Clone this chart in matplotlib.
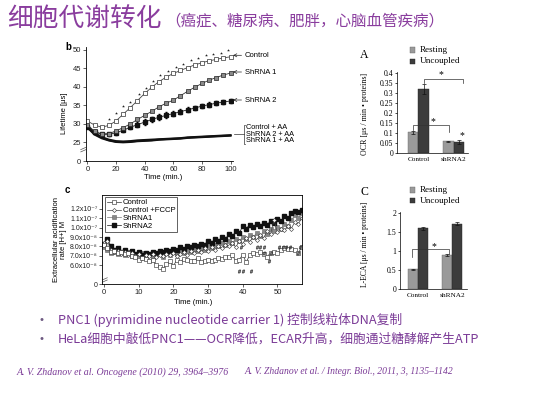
import numpy as np
import matplotlib
matplotlib.use('Agg')
import matplotlib.pyplot as plt
from matplotlib.patches import Rectangle
from matplotlib.lines import Line2D

plt.rcParams['font.family'] = ['Liberation Sans', 'DejaVu Sans']
plt.rcParams['mathtext.fontset'] = 'custom'
plt.rcParams['mathtext.rm'] = 'Liberation Sans'
plt.rcParams['mathtext.it'] = 'Liberation Sans:italic'
plt.rcParams['mathtext.bf'] = 'Liberation Sans:bold'

# ---------------- data: panel b (phosphorescence lifetime) ----------------
b_time = [0, 5, 10, 15, 20, 25, 30, 35, 40, 45, 50, 55, 60, 65, 70, 75, 80, 85, 90, 95, 100]
b_control = [30.8, 29.7, 29.1, 29.6, 30.8, 32.6, 34.4, 36.3, 38.2, 39.9, 41.4, 42.6, 43.6,
             44.4, 45.2, 45.9, 46.5, 47.0, 47.4, 47.8, 48.1]
b_shrna1 = [29.8, 28.0, 27.3, 27.4, 28.1, 29.0, 30.0, 31.2, 32.3, 33.4, 34.6, 35.6, 36.4,
            37.6, 38.8, 39.9, 40.9, 41.8, 42.5, 43.2, 43.7]
b_shrna2 = [29.3, 27.9, 27.2, 27.2, 27.6, 28.3, 29.1, 29.8, 30.5, 31.2, 31.8, 32.3, 32.8,
            33.3, 33.8, 34.3, 34.8, 35.2, 35.6, 35.9, 36.2]
b_shrna2_err = [0.4, 0.4, 0.4, 0.4, 0.5, 0.5, 0.6, 0.6, 0.7, 0.7, 0.8, 0.8, 0.8,
                0.7, 0.7, 0.6, 0.6, 0.6, 0.5, 0.5, 0.5]
b_aa_control = [29.6, 27.6, 26.5, 25.8, 25.4, 25.3, 25.4, 25.6, 25.7, 25.8, 25.9, 26.0,
                26.1, 26.2, 26.4, 26.5, 26.6, 26.7, 26.8, 26.9, 27.0]
b_aa_shrna2 = [29.2, 27.3, 26.3, 25.6, 25.2, 25.1, 25.2, 25.4, 25.5, 25.6, 25.8, 25.9,
               26.0, 26.1, 26.3, 26.4, 26.5, 26.6, 26.7, 26.8, 26.9]
b_aa_shrna1 = [29.0, 27.1, 26.1, 25.5, 25.1, 25.0, 25.1, 25.3, 25.4, 25.5, 25.7, 25.8,
               25.9, 26.0, 26.2, 26.3, 26.4, 26.5, 26.6, 26.7, 26.8]
b_star_time = [15, 20, 25, 30, 36, 41, 46, 51, 56, 62, 67, 72, 77, 83, 88, 93, 98]
b_star_val = [31.4, 33.0, 34.7, 36.0, 38.1, 39.7, 41.5, 43.3, 44.2, 45.3, 46.2, 47.1,
              47.9, 48.5, 48.9, 49.2, 49.8]
b_yticks = [20, 25, 30, 35, 40, 45, 50]
b_yticklabels = ['0', '25', '30', '35', '40', '45', '50']

# ---------------- data: panel c (extracellular acidification, x1e-8 M) ----------------
c_time = list(range(58))
c_control = [8.2, 7.8, 7.4, 7.5, 7.3, 7.4, 7.2, 7.3, 7.0, 6.9, 6.6, 6.8, 6.7, 6.5, 6.6, 6.0,
             5.8, 5.6, 6.1, 6.4, 5.9, 6.6, 6.3, 6.7, 6.6, 6.4, 6.5, 6.8, 6.3, 6.5, 6.6, 6.5,
             6.6, 6.8, 6.7, 6.9, 6.9, 7.1, 6.4, 6.6, 7.1, 6.3, 7.1, 7.3, 7.2, 7.4, 7.2, 6.9,
             7.3, 7.4, 7.3, 7.6, 7.8, 7.7, 7.7, 7.6, 7.3, 7.9]
c_fccp = [8.4, 8.6, 7.6, 7.4, 7.5, 7.2, 7.4, 7.1, 7.3, 7.0, 7.2, 6.8, 7.1, 7.0, 7.2, 6.9,
          7.1, 7.0, 7.2, 7.1, 7.3, 7.0, 7.2, 7.4, 7.1, 7.5, 7.3, 7.6, 7.4, 7.8, 7.5, 7.9,
          7.6, 8.0, 7.8, 8.2, 8.0, 8.4, 7.9, 8.6, 8.3, 8.9, 8.5, 9.0, 8.7, 9.2, 8.9, 9.6,
          9.3, 10.8, 9.5, 9.9, 9.7, 10.2, 9.9, 10.6, 10.4, 11.0]
c_shrna1 = [7.9, 7.6, 7.3, 7.4, 7.2, 7.3, 7.1, 7.4, 7.0, 7.2, 7.1, 7.3, 7.0, 7.2, 6.9, 7.1,
            7.2, 6.9, 7.3, 7.1, 7.4, 7.2, 7.5, 7.3, 7.6, 7.4, 7.7, 7.5, 7.8, 7.6, 8.0, 7.8,
            8.2, 8.0, 8.4, 8.2, 8.6, 8.4, 8.8, 8.6, 9.0, 8.8, 9.2, 9.0, 9.4, 9.1, 9.6, 9.3,
            9.9, 9.6, 10.1, 9.8, 10.4, 10.2, 10.8, 11.3, 11.0, 11.6]
c_shrna2 = [8.3, 8.8, 8.0, 7.6, 7.8, 7.4, 7.6, 7.3, 7.5, 7.2, 7.4, 7.1, 7.3, 7.2, 7.4, 7.3,
            7.5, 7.4, 7.6, 7.5, 7.7, 7.6, 7.9, 7.7, 8.0, 7.9, 8.2, 8.0, 8.3, 8.2, 8.6, 8.4,
            8.8, 8.6, 9.0, 8.8, 9.3, 9.1, 9.6, 9.4, 10.2, 9.9, 10.3, 10.1, 10.4, 10.2, 10.5,
            10.3, 10.7, 10.5, 10.9, 10.7, 11.2, 11.0, 11.6, 11.8, 11.7, 11.9]
c_hash_x = [39.5, 44, 45, 46, 50.5, 51.5, 52.5, 53.5, 56.5, 46, 48, 56, 39, 40, 42.5, 47.5]
c_hash_y = [7.9, 7.9, 7.9, 7.9, 7.9, 7.9, 7.9, 7.9, 7.9, 7.3, 7.3, 7.3, 5.4, 5.4, 5.4, 6.4]
c_yticks = [4, 6, 7, 8, 9, 10, 11, 12]
c_yticklabels = ['0', '6.0x10⁻⁸', '7.0x10⁻⁸', '8.0x10⁻⁸', '9.0x10⁻⁸',
                 '1.0x10⁻⁷', '1.1x10⁻⁷', '1.2x10⁻⁷']

# ---------------- data: panels A and C (bars) ----------------
groups = ['Control', 'shRNA2']
ocr_rest = [0.105, 0.060]
ocr_rest_err = [0.007, 0.002]
ocr_unc = [0.320, 0.055]
ocr_unc_err = [0.025, 0.010]
eca_rest = [0.52, 0.90]
eca_rest_err = [0.02, 0.02]
eca_unc = [1.60, 1.72]
eca_unc_err = [0.04, 0.05]

title_main = '细胞代谢转化'
title_sub = '（癌症、糖尿病、肥胖，心脑血管疾病）'
bullet1 = 'PNC1 (pyrimidine nucleotide carrier 1) 控制线粒体DNA复制'
bullet2 = 'HeLa细胞中敲低PNC1——OCR降低，ECAR升高，细胞通过糖酵解产生ATP'
cite1 = 'A. V. Zhdanov et al. Oncogene (2010) 29, 3964–3976'
cite2 = 'A. V. Zhdanov et al. / Integr. Biol., 2011, 3, 1135–1142'

# ---------------- figure ----------------
W, H = 542, 396
fig = plt.figure(figsize=(W / 100, H / 100), dpi=100)
fig.patch.set_facecolor('white')


def fx(x):
    return x / W


def fy(y):
    return 1 - y / H


CJK = ['Noto Sans CJK SC', 'DejaVu Sans']
PURPLE = '#8a3d9e'
TXT_PURPLE = '#7b3b97'

fig.text(fx(7), fy(19), title_main, fontsize=18.5, family=CJK, color=PURPLE, va='center', ha='left')
fig.text(fx(165), fy(21), title_sub, fontsize=11.2, family=CJK, color=PURPLE, va='center', ha='left')

fig.text(fx(42), fy(320), '•', fontsize=8, color='#6e5a82', va='center', ha='center')
fig.text(fx(42), fy(339), '•', fontsize=8, color='#6e5a82', va='center', ha='center')
fig.text(fx(58), fy(320), bullet1, fontsize=9.2, family=CJK, color=TXT_PURPLE, va='center')
fig.text(fx(58), fy(339), bullet2, fontsize=9.2, family=CJK, color=TXT_PURPLE, va='center')
fig.text(fx(17), fy(372), cite1, fontsize=7.1, family='Liberation Serif', style='italic',
         color=TXT_PURPLE, va='center')
fig.text(fx(245), fy(372), cite2, fontsize=6.9, family='Liberation Serif', style='italic',
         color=TXT_PURPLE, va='center')

# ---------------- panel b ----------------
axb = fig.add_axes([0.1585, 0.5934, 0.2723, 0.2876])
axb.set_xlim(-1, 102)
axb.set_ylim(20, 50.7)
for s in ['top', 'right']:
    axb.spines[s].set_visible(False)
for s in ['left', 'bottom']:
    axb.spines[s].set_linewidth(0.6)
axb.plot(b_time, b_aa_control, color='#111', lw=1.3)
axb.plot(b_time, b_aa_shrna2, color='#111', lw=1.3)
axb.plot(b_time, b_aa_shrna1, color='#111', lw=1.3)
axb.errorbar(b_time, b_shrna2, yerr=b_shrna2_err, fmt='none', ecolor='k', elinewidth=0.5, capsize=1)
axb.plot(b_time, b_shrna2, 's-', color='#222', mfc='#111', mec='#111', ms=2.7, lw=0.6)
axb.plot(b_time, b_shrna1, 's-', color='#333', mfc='#8a8a8a', mec='#222', ms=2.7, lw=0.6, mew=0.5)
axb.plot(b_time, b_control, 's-', color='#444', mfc='white', mec='#333', ms=2.7, lw=0.6, mew=0.5)
axb.plot(b_star_time, b_star_val, ls='none', marker='*', ms=2.2, color='#222', mew=0)
axb.set_yticks(b_yticks)
axb.set_yticklabels(b_yticklabels)
axb.set_xticks([0, 20, 40, 60, 80, 100])
axb.tick_params(labelsize=5.5, length=2, width=0.5, pad=1.5, colors='#222')
for dy in (0.0, 0.02):
    axb.plot([-0.035, 0.0], [0.08 + dy, 0.10 + dy], transform=axb.transAxes, color='#555',
             lw=0.5, clip_on=False)
fig.text(fx(64), fy(113), 'Lifetime [μs]', rotation=90, fontsize=5.5, ha='center', va='center')
fig.text(fx(163), fy(177), 'Time (min.)', fontsize=5.5, ha='center', va='center')
fig.text(fx(68), fy(47), 'b', fontsize=7, fontweight='bold', ha='center', va='center')

for lab, yy in [('Control', 55.3), ('ShRNA 1', 72), ('ShRNA 2', 100)]:
    axb.annotate(lab, xy=(fx(233), fy(yy)), xycoords='figure fraction',
                 xytext=(fx(245), fy(yy)), textcoords='figure fraction',
                 fontsize=5.5, ha='left', va='center',
                 arrowprops=dict(arrowstyle='->', lw=0.5, color='#222', shrinkA=0.5, shrinkB=0))
for lab, yy in [('Control + AA', 127.5), ('ShRNA 2 + AA', 134), ('ShRNA 1 + AA', 140.5)]:
    fig.text(fx(246.5), fy(yy), lab, fontsize=5.3, ha='left', va='center', linespacing=1)
fig.add_artist(Line2D([fx(245), fx(244), fx(244), fx(245)], [fy(124.5), fy(124.5), fy(143.5), fy(143.5)],
                      transform=fig.transFigure, color='#333', lw=0.5))
fig.add_artist(Line2D([fx(234), fx(244)], [fy(134), fy(134)], transform=fig.transFigure, color='#333', lw=0.5))

# ---------------- panel c ----------------
axc = fig.add_axes([0.1887, 0.2828, 0.368, 0.2255])
axc.set_xlim(-0.5, 57)
axc.set_ylim(4, 13.5)
for s in axc.spines.values():
    s.set_linewidth(0.6)
axc.plot(c_time, c_shrna1, 's-', color='#777', mfc='#888', mec='#666', ms=2.5, lw=0.5, mew=0.4, label='ShRNA1')
axc.plot(c_time, c_shrna2, 's-', color='#111', mfc='#111', mec='#111', ms=2.5, lw=0.5, label='ShRNA2')
axc.plot(c_time, c_fccp, 'D-', color='#444', mfc='white', mec='#333', ms=2.1, lw=0.5, mew=0.4, label='Control +FCCP')
axc.plot(c_time, c_control, 's-', color='#333', mfc='white', mec='#222', ms=2.5, lw=0.5, mew=0.4, label='Control')
axc.plot(c_hash_x, c_hash_y, ls='none', marker=r'$\#$', ms=2.6, color='#333', mew=0.2)
axc.set_yticks(c_yticks)
axc.set_yticklabels(c_yticklabels)
axc.set_xticks([0, 10, 20, 30, 40, 50])
axc.tick_params(labelsize=5.5, length=2, width=0.5, pad=1.5, colors='#222')
axc.tick_params(axis='y', labelsize=5.0)
for dy in (0.0, 0.025):
    axc.plot([-0.0, 0.025], [0.02 + dy, 0.045 + dy], transform=axc.transAxes, color='#555',
             lw=0.5, clip_on=False)
h, l = axc.get_legend_handles_labels()
order = [3, 2, 0, 1]
leg = axc.legend([h[i] for i in order], [l[i] for i in order], loc='upper left', fontsize=5.6,
                 frameon=True, fancybox=False, edgecolor='#222', handlelength=1.8, handletextpad=0.3,
                 labelspacing=0.05, borderpad=0.25, borderaxespad=0.3, framealpha=1)
leg.get_frame().set_linewidth(0.5)
fig.text(fx(60), fy(240), 'Extracellular acidification\nrate [H+] M', rotation=90, fontsize=5.5,
         ha='center', va='center', multialignment='center', linespacing=1.1)
fig.text(fx(193), fy(302), 'Time (min.)', fontsize=5.5, ha='center', va='center')
fig.text(fx(67), fy(190), 'c', fontsize=7, fontweight='bold', ha='center', va='center')

# ---------------- bar panels ----------------
REST = '#9a9a9a'
UNC = '#3c3c3c'
SERIF = 'Liberation Serif'


def bar_panel(rect, rest, rest_err, unc, unc_err, xlim, ylim, yticks, yticklabels):
    ax = fig.add_axes(rect)
    x = np.arange(len(groups))
    w = 0.3
    ek = dict(elinewidth=0.5, capsize=1.2, capthick=0.5, ecolor='#111')
    ax.bar(x - w / 2, rest, w, yerr=rest_err, color=REST, edgecolor='#666', lw=0.3, error_kw=ek)
    ax.bar(x + w / 2, unc, w, yerr=unc_err, color=UNC, edgecolor='#222', lw=0.3, error_kw=ek)
    ax.set_xlim(*xlim)
    ax.set_ylim(*ylim)
    for s in ['top', 'right']:
        ax.spines[s].set_visible(False)
    for s in ['left', 'bottom']:
        ax.spines[s].set_linewidth(0.5)
    ax.set_xticks(x)
    ax.set_xticklabels(groups, fontsize=5.2, family=SERIF)
    ax.set_yticks(yticks)
    ax.set_yticklabels(yticklabels, fontsize=5.6, family=SERIF)
    ax.tick_params(axis='x', length=0, pad=3)
    ax.tick_params(axis='y', length=1.5, width=0.5, pad=1)
    return ax


axA = bar_panel([0.7319, 0.6129, 0.1316, 0.2045], ocr_rest, ocr_rest_err, ocr_unc, ocr_unc_err,
                (-0.62, 1.41), (0, 0.405),
                [0, 0.05, 0.1, 0.15, 0.2, 0.25, 0.3, 0.35, 0.4],
                ['0', '0.05', '0.1', '0.15', '0.2', '0.25', '0.3', '0.35', '0.4'])
axA.plot([0.15, 0.15, 1.28, 1.28], [0.35, 0.3715, 0.3715, 0.35], color='#333', lw=0.5, clip_on=False)
axA.text(0.63, 0.392, '*', fontsize=7, ha='center', va='center', family=SERIF)
axA.plot([-0.15, -0.15, 0.88, 0.88], [0.1165, 0.141, 0.141, 0.108], color='#333', lw=0.5)
axA.text(0.42, 0.16, '*', fontsize=7, ha='center', va='center', family=SERIF)
axA.text(1.23, 0.088, '*', fontsize=7, ha='center', va='center', family=SERIF)

axC = bar_panel([0.738, 0.2694, 0.1231, 0.196], eca_rest, eca_rest_err, eca_unc, eca_unc_err,
                (-0.543, 1.436), (0, 2.03),
                [0, 0.5, 1, 1.5, 2], ['0', '0.5', '1', '1.5', '2'])
axC.plot([-0.178, -0.178, 0.92, 0.92], [0.836, 1.044, 1.044, 0.92], color='#333', lw=0.5)
axC.text(0.47, 1.13, '*', fontsize=7, ha='center', va='center', family=SERIF)

fig.text(fx(365), fy(114), 'OCR [μs / min • proteins]', rotation=90, fontsize=5.7, family=SERIF,
         ha='center', va='center')
fig.text(fx(365), fy(244), 'L-ECA [μs / min • proteins]', rotation=90, fontsize=5.5, family=SERIF,
         ha='center', va='center')
fig.text(fx(364), fy(55), 'A', fontsize=8.5, family=SERIF, ha='center', va='center')
fig.text(fx(364), fy(192), 'C', fontsize=8.5, family=SERIF, ha='center', va='center')


def legend_sq(xc, yc, color, edge, label):
    fig.add_artist(Rectangle((fx(xc - 2.6), fy(yc + 2.6)), 5.2 / W, 5.2 / H, transform=fig.transFigure,
                             facecolor=color, edgecolor=edge, lw=0.3))
    fig.text(fx(419.5), fy(yc), label, fontsize=6.6, family=SERIF, ha='left', va='center')


legend_sq(412.7, 50, REST, '#666', 'Resting')
legend_sq(412.7, 61.3, UNC, '#222', 'Uncoupled')
legend_sq(412.7, 190, REST, '#666', 'Resting')
legend_sq(412.7, 200.7, UNC, '#222', 'Uncoupled')

fig.savefig('out.png', dpi=100, facecolor='white')
